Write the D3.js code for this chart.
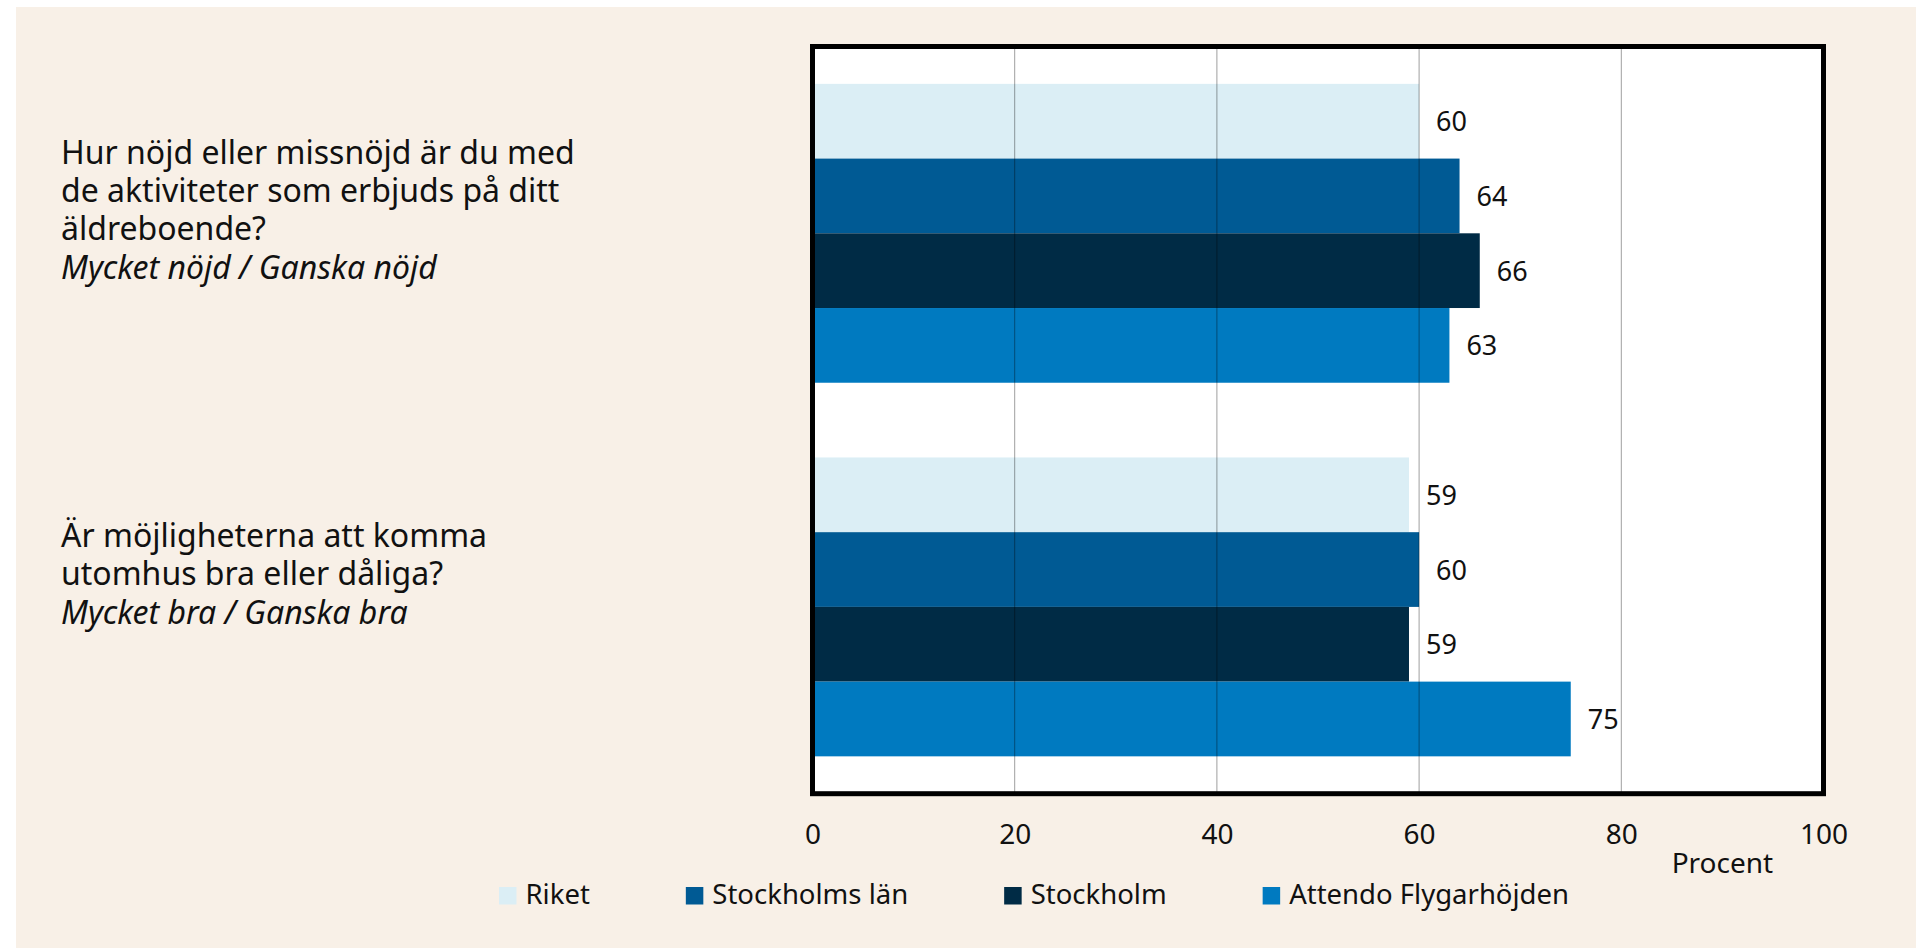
<!DOCTYPE html>
<html>
<head>
<meta charset="utf-8">
<script src="https://cdn.jsdelivr.net/npm/d3@7"></script>
<style>
  body { margin: 0; background: #fff; }
  svg { display: block; font-family: 'Noto Sans', 'Open Sans', sans-serif; }
</style>
</head>
<body>
<svg id="chart"></svg>
<script>
// Chart data
const questionLines = [
    ['Hur nöjd eller missnöjd är du med', 'de aktiviteter som erbjuds på ditt', 'äldreboende?'],
    ['Är möjligheterna att komma', 'utomhus bra eller dåliga?']
];
const answerLines = ['Mycket nöjd / Ganska nöjd', 'Mycket bra / Ganska bra'];
const categories = ['aktiviteter', 'utomhus'];
const seriesNames = ['Riket', 'Stockholms län', 'Stockholm', 'Attendo Flygarhöjden'];
const riket = [60, 59];
const stockholmsLan = [64, 60];
const stockholm = [66, 59];
const attendo = [63, 75];
const xTicks = [0, 20, 40, 60, 80, 100];
const axisTitle = 'Procent';

const seriesValues = [riket, stockholmsLan, stockholm, attendo];
const colors = ['#DBEEF5', '#005A94', '#002B45', '#007AC0'];

const W = 1916, H = 948;
const plot = { left: 812.5, right: 1823.5, top: 46.5, bottom: 793.7 };

const svg = d3.select('#chart')
    .attr('width', W)
    .attr('height', H);

// beige panel
svg.append('rect')
    .attr('x', 16).attr('y', 7)
    .attr('width', W - 16).attr('height', H - 7)
    .attr('fill', '#F8F0E7');

// scales
const x = d3.scaleLinear().domain([0, 100]).range([plot.left, plot.right]);
const y = d3.scaleBand()
    .domain(categories)
    .range([plot.top, plot.bottom])
    .paddingInner(0.2)
    .paddingOuter(0.1);
const ySub = d3.scaleBand()
    .domain(seriesNames)
    .range([0, y.bandwidth()]);

// white plot area
svg.append('rect')
    .attr('x', plot.left).attr('y', plot.top)
    .attr('width', plot.right - plot.left)
    .attr('height', plot.bottom - plot.top)
    .attr('fill', '#fff');

// bars
const rows = [];
categories.forEach((c, i) => {
    seriesNames.forEach((s, j) => {
        rows.push({ cat: c, series: s, value: seriesValues[j][i], color: colors[j] });
    });
});

svg.append('g').selectAll('rect')
    .data(rows)
    .enter()
    .append('rect')
    .attr('x', x(0))
    .attr('y', d => y(d.cat) + ySub(d.series))
    .attr('width', d => x(d.value) - x(0))
    .attr('height', ySub.bandwidth())
    .attr('fill', d => d.color);

// gridlines drawn over the bars
svg.append('g').selectAll('line')
    .data(xTicks.slice(1, -1))
    .enter()
    .append('line')
    .attr('x1', d => x(d)).attr('x2', d => x(d))
    .attr('y1', plot.top).attr('y2', plot.bottom)
    .attr('stroke', '#000')
    .attr('stroke-opacity', 0.38)
    .attr('stroke-width', 1);

// value labels
svg.append('g').selectAll('text')
    .data(rows)
    .enter()
    .append('text')
    .attr('x', d => x(d.value) + 17)
    .attr('y', d => y(d.cat) + ySub(d.series) + ySub.bandwidth() / 2 + 10)
    .attr('font-size', 27)
    .attr('fill', '#111')
    .text(d => d.value);

// frame
svg.append('rect')
    .attr('x', plot.left).attr('y', plot.top)
    .attr('width', plot.right - plot.left)
    .attr('height', plot.bottom - plot.top)
    .attr('fill', 'none')
    .attr('stroke', '#000')
    .attr('stroke-width', 5);

// x axis labels
const xAxis = d3.axisBottom(x).tickValues(xTicks).tickSize(0).tickPadding(0);
const axisG = svg.append('g')
    .attr('transform', `translate(0,844)`)
    .call(xAxis);
axisG.select('.domain').remove();
axisG.selectAll('text')
    .attr('dy', null)
    .attr('y', 0)
    .attr('font-size', 28)
    .attr('font-family', "'Noto Sans', sans-serif")
    .attr('fill', '#111');

svg.append('text')
    .attr('x', x(90))
    .attr('y', 873)
    .attr('text-anchor', 'middle')
    .attr('font-size', 28)
    .attr('fill', '#111')
    .text(axisTitle);

// category labels on the left, one text per line
const lineH = 38.3;
categories.forEach((c, i) => {
    const lines = questionLines[i];
    const first = y(c) + 80 + (3 - lines.length) * 9.5;
    const g = svg.append('g').attr('fill', '#111');
    lines.forEach((l, k) => {
        g.append('text')
            .attr('x', 61)
            .attr('y', first + k * lineH)
            .attr('font-size', 32)
            .text(l);
    });
    g.append('text')
        .attr('x', 61)
        .attr('y', first + lines.length * lineH)
        .attr('font-style', 'italic')
        .attr('font-size', 32)
        .text(answerLines[i]);
});

// legend
const legend = svg.append('g').attr('transform', 'translate(499,887)');
let lx = 0;
seriesNames.forEach((s, j) => {
    const g = legend.append('g').attr('transform', `translate(${lx},0)`);
    g.append('rect')
        .attr('width', 17.5).attr('height', 17.5)
        .attr('fill', colors[j]);
    const txt = g.append('text')
        .attr('x', 26.5)
        .attr('y', 17.3)
        .attr('font-size', 27.5)
        .attr('fill', '#111')
        .text(s);
    lx += 26.5 + txt.node().getComputedTextLength() + 96;
});
</script>
</body>
</html>
